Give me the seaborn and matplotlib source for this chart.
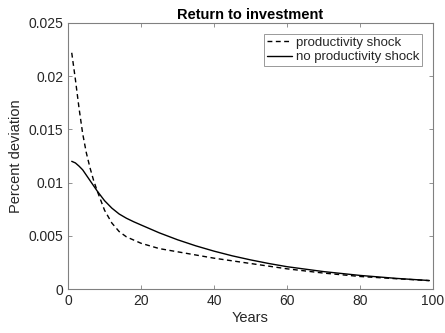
import matplotlib
matplotlib.use("Agg")
import matplotlib.pyplot as plt
import seaborn as sns
import pandas as pd

years = [1, 2, 3, 4, 5, 6, 7, 8, 10, 12, 14, 16, 18, 20, 25, 30, 35, 40, 45, 50, 55, 60, 70, 80, 90, 99]
shock = [0.0222, 0.0197, 0.0170, 0.0146, 0.0128, 0.0114, 0.0102, 0.0092, 0.0074, 0.0062,
         0.0054, 0.0049, 0.0046, 0.0043, 0.0038, 0.0035, 0.0032, 0.0029, 0.00265, 0.0024,
         0.00215, 0.0019, 0.0015, 0.00118, 0.00097, 0.00079]
no_shock = [0.0120, 0.01185, 0.01155, 0.0112, 0.0107, 0.0102, 0.0097, 0.0092, 0.0083, 0.0076,
            0.00705, 0.00665, 0.00632, 0.00602, 0.00528, 0.00463, 0.00406, 0.00356, 0.00312,
            0.00274, 0.0024, 0.0021, 0.00164, 0.00128, 0.00100, 0.00080]
labels = ["productivity shock", "no productivity shock"]
xticks = [0, 20, 40, 60, 80, 100]
yticks = [0, 0.005, 0.01, 0.015, 0.02, 0.025]
ytick_labels = ["0", "0.005", "0.01", "0.015", "0.02", "0.025"]

sns.set_style("white")
plt.rcParams["font.family"] = ["Liberation Sans", "DejaVu Sans"]

fig = plt.figure(figsize=(4.45, 3.33), dpi=100)
ax = fig.add_axes([0.153, 0.132, 0.820, 0.799])

df1 = pd.DataFrame({"Years": years, "v": shock})
df2 = pd.DataFrame({"Years": years, "v": no_shock})
sns.lineplot(data=df1, x="Years", y="v", ax=ax, color="black", linestyle=(0, (3.5, 2.5)),
             linewidth=1.0, label=labels[0])
sns.lineplot(data=df2, x="Years", y="v", ax=ax, color="black", linestyle="-",
             linewidth=1.0, label=labels[1])

ax.set_xlim(0, 100)
ax.set_ylim(0, 0.025)
ax.set_xticks(xticks)
ax.set_xticklabels([str(t) for t in xticks])
ax.set_yticks(yticks)
ax.set_yticklabels(ytick_labels)
ax.set_xlabel("Years", fontsize=10.5, color="#262626", labelpad=2)
ax.set_ylabel("Percent deviation", fontsize=10.5, color="#262626", labelpad=4)
ax.set_title("Return to investment", fontsize=10.5, fontweight="bold", color="black", pad=3)

for s in ax.spines.values():
    s.set_color("#808080")
    s.set_linewidth(0.8)
    s.set_visible(True)
ax.tick_params(direction="in", length=3, width=0.6, colors="#808080", labelcolor="#262626",
               labelsize=10, top=True, right=True, bottom=True, left=True)

leg = ax.legend(loc="upper right", fontsize=9.5, frameon=True, fancybox=False,
                handlelength=1.9, handletextpad=0.3, borderpad=0.2, labelspacing=0.15,
                borderaxespad=0.85)
leg.get_frame().set_edgecolor("#808080")
leg.get_frame().set_linewidth(0.7)

fig.savefig("out.png", dpi=100)
